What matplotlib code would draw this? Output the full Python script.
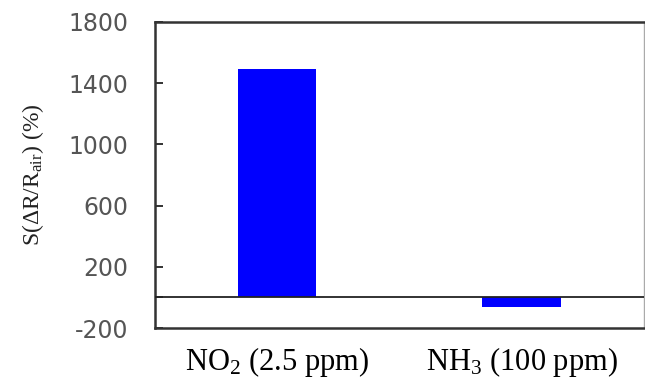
import matplotlib
matplotlib.use('Agg')
import matplotlib.pyplot as plt

# ── data ──
gases = [r"NO$_2$ (2.5 ppm)", r"NH$_3$ (100 ppm)"]
response = [1490, -60]
ytick_vals = [-200, 200, 600, 1000, 1400, 1800]

plt.rcParams['mathtext.fontset'] = 'custom'
plt.rcParams['mathtext.rm'] = 'Liberation Serif'
plt.rcParams['mathtext.it'] = 'Liberation Serif:italic'

fig = plt.figure(figsize=(6.45, 3.78), dpi=100)
ax = fig.add_axes([0.240, 0.132, 0.758, 0.810])

x = list(range(len(gases)))
ax.bar(x, response, width=0.32, color="#0000ff", edgecolor="none", zorder=2)
ax.axhline(0, color="#222222", linewidth=1.3, zorder=3)

ax.set_xlim(-0.5, 1.5)
ax.set_ylim(-200, 1800)
ax.set_yticks(ytick_vals + [0])
ax.set_yticklabels([str(v) for v in ytick_vals] + [""])
ax.tick_params(axis='y', direction='in', length=6, width=1.3, color="#222222",
               labelsize=17, labelcolor="#555555", pad=19)
for lab in ax.get_yticklabels():
    lab.set_family("DejaVu Sans")

ax.set_xticks(x)
ax.set_xticklabels(gases, fontsize=22, family="Liberation Serif")
ax.tick_params(axis='x', length=0, pad=12)

ax.set_ylabel(r"S($\Delta$R/R$_{\rm air}$) (%)", fontsize=17,
              family="Liberation Serif", labelpad=16, color="#222222")

for side in ["left", "top", "bottom"]:
    ax.spines[side].set_color("#333333")
    ax.spines[side].set_linewidth(1.8)
ax.spines["right"].set_color("#aaaaaa")
ax.spines["right"].set_linewidth(1.0)

plt.savefig("out.png", dpi=100)
